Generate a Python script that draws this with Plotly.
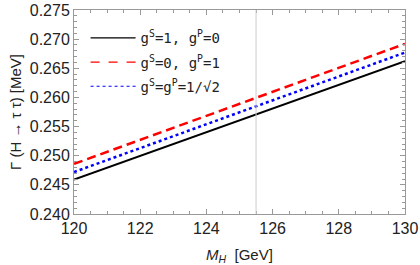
import plotly.graph_objects as go

mh = [120, 130]
g_scalar = [0.2459, 0.2662]
g_pseudo = [0.2486, 0.2692]
g_mixed = [0.2472, 0.2677]
mh_ref = 125.5

names = ["g<sup>S</sup>=1, g<sup>P</sup>=0",
         "g<sup>S</sup>=0, g<sup>P</sup>=1",
         "g<sup>S</sup>=g<sup>P</sup>=1/√2"]
colors = ["black", "#ff0000", "#0000ff"]
dashes = ["solid", "9px,5px", "3px,3px"]
widths = [2, 2.5, 2.5]
series = [g_scalar, g_pseudo, g_mixed]

fig = go.Figure()
for i, ys in enumerate(series):
    fig.add_trace(go.Scatter(x=mh, y=ys, mode="lines", showlegend=False, legendgroup=str(i),
                             line=dict(color=colors[i], width=widths[i], dash=dashes[i])))
for i in range(3):
    fig.add_trace(go.Scatter(x=[None], y=[None], mode="lines", name=names[i], legendgroup=str(i),
                             line=dict(color=colors[i], width=1.2,
                                       dash=["solid", "dash", "dot"][i])))
fig.add_vline(x=mh_ref, line=dict(color="#cccccc", width=1))

axis_common = dict(showgrid=False, zeroline=False, showline=True, linecolor="#999999",
                   linewidth=1, mirror="allticks", ticks="inside", tickcolor="#999999",
                   ticklen=5, automargin=False,
                   tickfont=dict(family="Liberation Sans, Arial", size=16, color="#222222"))

fig.update_xaxes(range=[120, 130], dtick=2, tick0=120,
                 minor=dict(dtick=0.5, ticks="inside", ticklen=3, tickcolor="#999999"),
                 title=dict(text="<i>M<sub>H</sub></i>  [GeV]", standoff=14,
                            font=dict(family="Liberation Sans, Arial", size=15, color="#222222")),
                 **axis_common)
fig.update_yaxes(range=[0.240, 0.275], dtick=0.005, tick0=0.24, tickformat=".3f",
                 minor=dict(dtick=0.001, ticks="inside", ticklen=3, tickcolor="#999999"),
                 title=dict(text="Γ (H → τ τ) [MeV]", standoff=4,
                            font=dict(family="Liberation Sans, Arial", size=15, color="#222222")),
                 **axis_common)

fig.update_layout(width=420, height=265, margin=dict(l=74, r=15, t=10, b=51),
                  plot_bgcolor="white", paper_bgcolor="white", showlegend=True,
                  legend=dict(x=0.035, y=0.94, xanchor="left", yanchor="top",
                              bgcolor="rgba(0,0,0,0)", itemwidth=45,
                              font=dict(family="DejaVu Sans Mono", size=14, color="#222222"),
                              tracegroupgap=3))
fig.write_html("out.html", config={"displayModeBar": False},
               post_script="document.body.style.margin='0';")
